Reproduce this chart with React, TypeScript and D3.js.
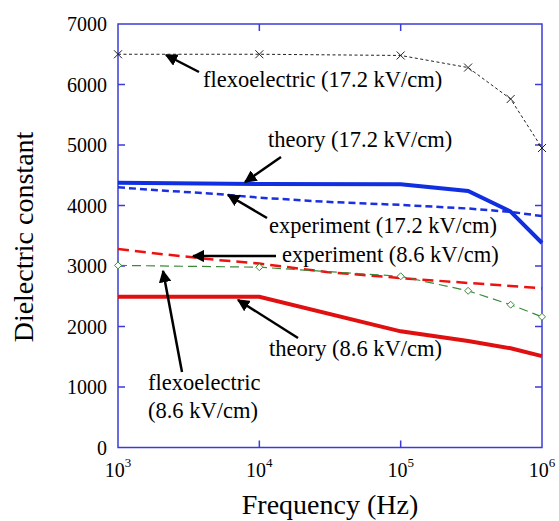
import React from "react";
import * as d3 from "d3";

// frequencies (Hz) and dielectric constants
const flexoFreq = [1e3, 1e4, 1e5, 3e5, 6e5, 1e6];
const flexoHigh = [6500, 6500, 6480, 6280, 5760, 4950];
const flexoLow = [3010, 2980, 2830, 2590, 2360, 2160];

const theoryFreq = [1e3, 1e4, 1e5, 3e5, 6e5, 1e6];
const theoryHigh = [4375, 4355, 4350, 4240, 3900, 3380];
const theoryLow = [2490, 2490, 1920, 1760, 1640, 1510];

const expFreq = [1e3, 2e3, 5e3, 1e4, 3e4, 1e5, 3e5, 6e5, 1e6];
const expHigh = [4300, 4250, 4190, 4130, 4060, 4010, 3950, 3895, 3825];
const expLow = [3280, 3200, 3100, 3040, 2900, 2800, 2720, 2670, 2630];

const yTicks = [0, 1000, 2000, 3000, 4000, 5000, 6000, 7000];
const xTicks = [1e3, 1e4, 1e5, 1e6];

const W = 559;
const H = 521;
const m = { left: 118, top: 24, right: 542, bottom: 447.5 };
const axisColor = "#3b3bd9";
const serif = '"Liberation Serif", "Times New Roman", Tinos, Times, "DejaVu Serif", serif';

export default function App() {
  const x = d3.scaleLog().domain([1e3, 1e6]).range([m.left, m.right]);
  const y = d3.scaleLinear().domain([0, 7000]).range([m.bottom, m.top]);

  const line = (xs: number[], ys: number[]) =>
    d3
      .line<number>()
      .x((_, i) => x(xs[i]))
      .y((d) => y(d))(ys) as string;

  // annotation arrows: [x1, y1, x2 (head), y2 (head)]
  const arrows = [
    [199, 72, 166, 55],
    [281, 157, 245, 182],
    [267, 218, 228, 195],
    [276, 256, 193, 256],
    [298, 338, 238, 300],
    [182, 372, 163, 271],
  ];

  const labels = [
    { t: "flexoelectric (17.2 kV/cm)", x: 203, y: 87 },
    { t: "theory (17.2 kV/cm)", x: 268, y: 147 },
    { t: "experiment (17.2 kV/cm)", x: 269, y: 233 },
    { t: "experiment (8.6 kV/cm)", x: 282, y: 262 },
    { t: "theory (8.6 kV/cm)", x: 269, y: 356 },
    { t: "flexoelectric", x: 148, y: 390 },
    { t: "(8.6 kV/cm)", x: 148, y: 418 },
  ];

  return (
    <svg
      width={W}
      height={H}
      style={{ position: "absolute", left: 0, top: 0, background: "#fff", fontFamily: serif }}
    >
      <defs>
        <marker
          id="ah"
          viewBox="0 0 10 10"
          refX="9"
          refY="5"
          markerWidth="5"
          markerHeight="5"
          orient="auto"
        >
          <path d="M0,0 L10,5 L0,10 z" fill="#000" />
        </marker>
      </defs>

      {/* frame */}
      <rect
        x={m.left}
        y={m.top}
        width={m.right - m.left}
        height={m.bottom - m.top}
        fill="none"
        stroke={axisColor}
        strokeWidth={1.5}
      />
      {yTicks.slice(1, -1).map((v) => (
        <g key={v}>
          <line x1={m.left} x2={m.left + 7} y1={y(v)} y2={y(v)} stroke={axisColor} strokeWidth={1.5} />
          <line x1={m.right} x2={m.right - 7} y1={y(v)} y2={y(v)} stroke={axisColor} strokeWidth={1.5} />
        </g>
      ))}
      {xTicks.slice(1, -1).map((v) => (
        <g key={v}>
          <line x1={x(v)} x2={x(v)} y1={m.bottom} y2={m.bottom - 7} stroke={axisColor} strokeWidth={1.5} />
          <line x1={x(v)} x2={x(v)} y1={m.top} y2={m.top + 7} stroke={axisColor} strokeWidth={1.5} />
        </g>
      ))}

      {/* tick labels */}
      {yTicks.map((v) => (
        <text key={v} x={107} y={y(v) + 7} textAnchor="end" fontSize={20}>
          {v}
        </text>
      ))}
      {xTicks.map((v) => (
        <text key={v} x={x(v)} y={477} textAnchor="middle" fontSize={20}>
          10
          <tspan fontSize={13} dy={-10}>
            {Math.round(Math.log10(v))}
          </tspan>
        </text>
      ))}

      {/* axis titles */}
      <text x={330} y={514} textAnchor="middle" fontSize={28}>
        Frequency (Hz)
      </text>
      <text transform={`translate(33,237) rotate(-90)`} textAnchor="middle" fontSize={28}>
        Dielectric constant
      </text>

      {/* series */}
      <path d={line(flexoFreq, flexoHigh)} fill="none" stroke="#222" strokeWidth={1} strokeDasharray="3,2.5" />
      {flexoFreq.map((f, i) => (
        <path
          key={"fx" + i}
          d={`M${x(f) - 4},${y(flexoHigh[i]) - 4}l8,8M${x(f) - 4},${y(flexoHigh[i]) + 4}l8,-8`}
          stroke="#222"
          strokeWidth={1}
        />
      ))}
      <path d={line(theoryFreq, theoryHigh)} fill="none" stroke="#0f2fe0" strokeWidth={4} />
      <path d={line(expFreq, expHigh)} fill="none" stroke="#1a2fe0" strokeWidth={2.5} strokeDasharray="7,4" />
      <path d={line(expFreq, expLow)} fill="none" stroke="#ee1111" strokeWidth={2.5} strokeDasharray="11,6" />
      <path d={line(flexoFreq, flexoLow)} fill="none" stroke="#3a8a3a" strokeWidth={1.2} strokeDasharray="9,5" />
      {flexoFreq.map((f, i) => (
        <path
          key={"fd" + i}
          d={`M${x(f)},${y(flexoLow[i]) - 3.5}l3.5,3.5l-3.5,3.5l-3.5,-3.5z`}
          fill="#fff"
          stroke="#3a8a3a"
          strokeWidth={1}
        />
      ))}
      <path d={line(theoryFreq, theoryLow)} fill="none" stroke="#e01010" strokeWidth={4} />

      {/* annotations */}
      {arrows.map((a, i) => (
        <line
          key={"a" + i}
          x1={a[0]}
          y1={a[1]}
          x2={a[2]}
          y2={a[3]}
          stroke="#000"
          strokeWidth={2.5}
          markerEnd="url(#ah)"
        />
      ))}
      {labels.map((l) => (
        <text key={l.t} x={l.x} y={l.y} fontSize={22.5}>
          {l.t}
        </text>
      ))}
    </svg>
  );
}
